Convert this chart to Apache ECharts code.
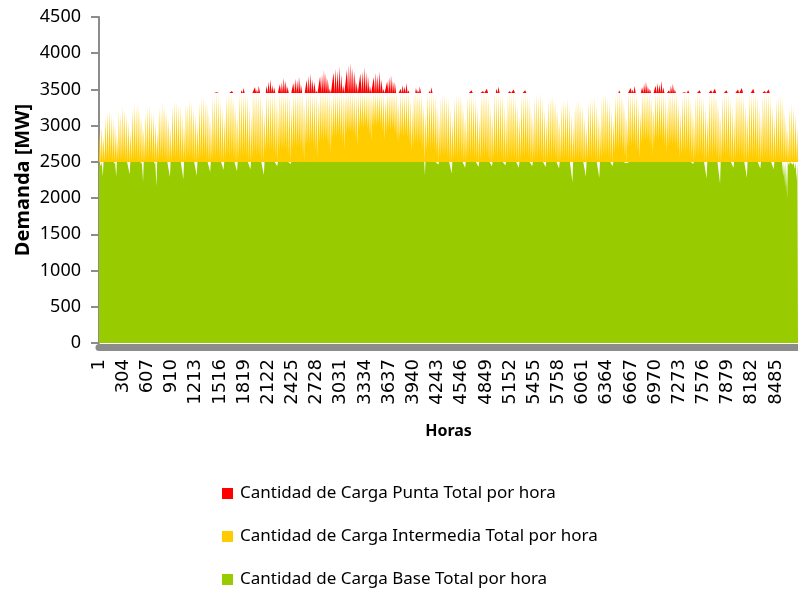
<!DOCTYPE html>
<html>
<head>
<meta charset="utf-8">
<script src="https://cdn.jsdelivr.net/npm/echarts@6/dist/echarts.min.js"></script>
<style>
  html, body { margin: 0; padding: 0; background: #fff; }
  #chart { width: 798px; height: 590px; }
</style>
</head>
<body>
<div id="chart"></div>
<script>
// etiquetas del eje de horas (una cada 303 horas)
var hourLabels = ['1', '304', '607', '910', '1213', '1516', '1819', '2122', '2425', '2728',
  '3031', '3334', '3637', '3940', '4243', '4546', '4849', '5152', '5455', '5758',
  '6061', '6364', '6667', '6970', '7273', '7576', '7879', '8182', '8485'];

// demanda maxima diaria [MW] (1 ene vie, sab, dom; luego semanas lun..dom)
var dayPeak = [
  2900, 2990, 2850,
  3110, 3190, 3230, 3150, 3100, 3010, 2880,
  3210, 3170, 3280, 3230, 3150, 3060, 2930,
  3240, 3300, 3260, 3310, 3190, 3080, 2960,
  3170, 3250, 3290, 3200, 3180, 3050, 2920,
  3260, 3230, 3320, 3270, 3190, 3110, 2980,
  3270, 3350, 3330, 3290, 3280, 3150, 3010,
  3310, 3290, 3370, 3330, 3250, 3160, 3030,
  3320, 3390, 3410, 3340, 3330, 3190, 3060,
  3390, 3410, 3460, 3420, 3350, 3240, 3110,
  3420, 3450, 3430, 3480, 3390, 3260, 3130,
  3440, 3490, 3520, 3450, 3420, 3290, 3150,
  3470, 3530, 3500, 3550, 3460, 3320, 3180,
  3550, 3610, 3640, 3560, 3530, 3400, 3260,
  3570, 3600, 3660, 3620, 3540, 3420, 3280,
  3590, 3650, 3630, 3680, 3570, 3440, 3300,
  3630, 3690, 3720, 3640, 3610, 3480, 3340,
  3680, 3710, 3770, 3720, 3650, 3510, 3370,
  3730, 3790, 3760, 3820, 3710, 3560, 3420,
  3770, 3840, 3870, 3800, 3750, 3600, 3450,
  3720, 3750, 3810, 3740, 3690, 3550, 3410,
  3670, 3730, 3700, 3750, 3640, 3510, 3370,
  3610, 3670, 3700, 3620, 3600, 3450, 3320,
  3510, 3560, 3540, 3590, 3490, 3360, 3220,
  3460, 3520, 3490, 3540, 3440, 3300, 3170,
  3450, 3480, 3530, 3470, 3430, 3300, 3160,
  3390, 3440, 3470, 3410, 3380, 3250, 3110,
  3370, 3440, 3420, 3460, 3360, 3230, 3100,
  3410, 3460, 3490, 3420, 3390, 3260, 3120,
  3430, 3480, 3460, 3510, 3410, 3280, 3140,
  3450, 3510, 3540, 3470, 3430, 3290, 3150,
  3420, 3480, 3450, 3500, 3410, 3270, 3140,
  3410, 3440, 3490, 3430, 3390, 3260, 3120,
  3390, 3450, 3420, 3470, 3370, 3240, 3100,
  3350, 3400, 3430, 3370, 3330, 3200, 3060,
  3300, 3360, 3340, 3390, 3290, 3160, 3020,
  3290, 3340, 3370, 3300, 3270, 3140, 3000,
  3330, 3380, 3360, 3410, 3310, 3180, 3040,
  3370, 3430, 3450, 3380, 3350, 3220, 3080,
  3410, 3450, 3490, 3440, 3390, 3260, 3120,
  3470, 3520, 3500, 3550, 3450, 3310, 3180,
  3530, 3580, 3610, 3540, 3510, 3380, 3240,
  3550, 3590, 3570, 3620, 3530, 3400, 3260,
  3490, 3550, 3580, 3500, 3470, 3340, 3200,
  3410, 3460, 3440, 3490, 3390, 3260, 3120,
  3400, 3460, 3490, 3420, 3390, 3260, 3120,
  3430, 3490, 3460, 3510, 3410, 3280, 3140,
  3410, 3450, 3490, 3430, 3390, 3260, 3120,
  3440, 3500, 3470, 3520, 3420, 3290, 3150,
  3430, 3470, 3510, 3450, 3410, 3280, 3140,
  3420, 3480, 3460, 3500, 3410, 3270, 3130,
  3370, 3420, 3440, 3390, 3250, 3080, 2950,
  3260, 3300, 3270, 3160, 2980
];

// demanda minima diaria [MW]
var dayLow = [
  2400, 2440, 2300,
  2500, 2530, 2520, 2540, 2510, 2470, 2300,
  2510, 2540, 2520, 2550, 2520, 2480, 2330,
  2510, 2530, 2550, 2520, 2510, 2470, 2230,
  2510, 2540, 2520, 2550, 2520, 2470, 2160,
  2520, 2550, 2530, 2560, 2520, 2480, 2290,
  2520, 2560, 2530, 2560, 2530, 2480, 2260,
  2520, 2550, 2540, 2560, 2530, 2490, 2310,
  2530, 2560, 2540, 2570, 2530, 2490, 2360,
  2530, 2570, 2550, 2580, 2540, 2500, 2390,
  2540, 2580, 2560, 2590, 2550, 2500, 2370,
  2550, 2580, 2570, 2600, 2560, 2510, 2400,
  2560, 2600, 2580, 2610, 2570, 2520, 2320,
  2620, 2660, 2640, 2670, 2630, 2570, 2440,
  2640, 2680, 2660, 2690, 2650, 2590, 2470,
  2670, 2710, 2690, 2720, 2680, 2620, 2500,
  2710, 2750, 2730, 2760, 2720, 2660, 2560,
  2760, 2800, 2780, 2810, 2770, 2710, 2600,
  2820, 2860, 2840, 2870, 2830, 2770, 2660,
  2880, 2920, 2900, 2930, 2890, 2830, 2720,
  2940, 2980, 2960, 2990, 2950, 2890, 2780,
  2970, 3010, 2990, 3020, 2980, 2910, 2800,
  2910, 2950, 2930, 2960, 2920, 2860, 2740,
  2820, 2860, 2840, 2870, 2830, 2770, 2640,
  2720, 2760, 2740, 2770, 2730, 2670, 2320,
  2650, 2690, 2670, 2700, 2660, 2600, 2460,
  2570, 2600, 2580, 2610, 2570, 2520, 2340,
  2530, 2570, 2550, 2580, 2540, 2500, 2420,
  2540, 2580, 2560, 2590, 2550, 2510, 2430,
  2530, 2570, 2550, 2580, 2540, 2500, 2440,
  2540, 2580, 2560, 2590, 2550, 2510, 2450,
  2530, 2560, 2550, 2580, 2540, 2500, 2420,
  2540, 2580, 2560, 2590, 2550, 2510, 2440,
  2530, 2570, 2550, 2580, 2540, 2500, 2430,
  2520, 2560, 2540, 2570, 2530, 2490, 2410,
  2520, 2550, 2540, 2560, 2520, 2480, 2220,
  2520, 2550, 2530, 2560, 2520, 2480, 2300,
  2530, 2560, 2540, 2570, 2530, 2490, 2280,
  2550, 2590, 2570, 2600, 2560, 2520, 2440,
  2630, 2670, 2650, 2680, 2640, 2580, 2480,
  2690, 2730, 2710, 2740, 2700, 2640, 2540,
  2750, 2790, 2770, 2800, 2760, 2700, 2600,
  2770, 2810, 2790, 2820, 2780, 2720, 2620,
  2710, 2750, 2730, 2760, 2720, 2660, 2560,
  2590, 2630, 2610, 2640, 2600, 2550, 2470,
  2550, 2590, 2570, 2600, 2560, 2510, 2270,
  2540, 2580, 2560, 2590, 2550, 2500, 2200,
  2540, 2580, 2560, 2590, 2550, 2500, 2420,
  2530, 2570, 2550, 2580, 2540, 2490, 2280,
  2530, 2570, 2550, 2580, 2540, 2490, 2410,
  2520, 2560, 2540, 2570, 2530, 2480, 2400,
  2510, 2550, 2530, 2510, 2300, 2150, 2000,
  2450, 2480, 2460, 2400, 2250
];

var baseCap = 2500;   // tope carga base
var interCap = 3450;  // tope carga intermedia
// horas del dia: minimo nocturno, inicio y fin del bloque de maxima demanda
var lowHour = 4, peakStartHour = 12, peakEndHour = 20;

// cada carga es una franja: base 0..2500, intermedia 2500..3450, punta >3450
var pointHours = [], baseData = [], interData = [], puntaData = [];
for (var d = 0; d < dayPeak.length; d++) {
  [[lowHour, dayLow[d]], [peakStartHour, dayPeak[d]], [peakEndHour, dayPeak[d]]].forEach(function (p) {
    var v = p[1];
    pointHours.push(String(d * 24 + p[0]));
    baseData.push(Math.min(v, baseCap));
    interData.push(Math.min(Math.max(v, baseCap), interCap));
    puntaData.push(Math.max(v, interCap));
  });
}

var names = ['Cantidad de Carga Punta Total por hora',
  'Cantidad de Carga Intermedia Total por hora',
  'Cantidad de Carga Base Total por hora'];

function bandSeries(name, color, data, origin) {
  return {
    name: name,
    type: 'line',
    xAxisIndex: 1,
    data: data,
    symbol: 'none',
    showSymbol: false,
    silent: true,
    emphasis: { disabled: true },
    lineStyle: { width: 0, color: 'rgba(0,0,0,0)' },
    itemStyle: { color: color },
    areaStyle: { color: color, opacity: 1, origin: origin }
  };
}

var chart = echarts.init(document.getElementById('chart'));
chart.setOption({
  backgroundColor: '#fff',
  animation: false,
  grid: { left: 99, top: 17, width: 711, height: 326 },
  legend: {
    data: names,
    orient: 'vertical',
    left: 222,
    top: 485,
    padding: 0,
    icon: 'rect',
    itemWidth: 11,
    itemHeight: 11,
    itemGap: 26,
    textStyle: { fontFamily: 'Noto Sans', fontSize: 17, color: '#000', lineHeight: 17, padding: [0, 0, 0, 2] }
  },
  xAxis: [{
    type: 'value',
    min: 0,
    max: 8760,
    interval: 303,
    offset: 4,
    axisLine: { show: true, onZero: false, lineStyle: { color: '#8c8c8c', width: 7 } },
    axisTick: { show: false },
    splitLine: { show: false },
    axisLabel: {
      rotate: 90,
      margin: 12,
      fontFamily: 'DejaVu Sans',
      fontSize: 18,
      color: '#000',
      showMaxLabel: false,
      formatter: function (v) {
        var i = v / 303;
        return (Number.isInteger(i) && hourLabels[i]) ? hourLabels[i] : '';
      }
    },
    name: 'Horas',
    nameLocation: 'middle',
    nameGap: 76,
    nameTextStyle: { fontFamily: 'Noto Sans', fontWeight: 'bold', fontSize: 16, color: '#000' }
  }, {
    type: 'category',
    show: false,
    boundaryGap: false,
    data: pointHours
  }],
  yAxis: {
    type: 'value',
    min: 0,
    max: 4500,
    interval: 500,
    axisLine: { show: true, lineStyle: { color: '#8c8c8c', width: 2 } },
    axisTick: { show: true, length: 8, lineStyle: { color: '#8c8c8c', width: 2 } },
    splitLine: { show: false },
    axisLabel: {
      margin: 18, fontFamily: 'Noto Sans', fontSize: 18, color: '#000',
      formatter: function (v) { return String(v); }
    },
    name: 'Demanda [MW]',
    nameLocation: 'middle',
    nameRotate: 90,
    nameGap: 66,
    nameMoveOverlap: false,
    nameTextStyle: { fontFamily: 'Noto Sans', fontWeight: 'bold', fontSize: 20, color: '#000' }
  },
  series: [
    bandSeries(names[2], '#99CC00', baseData, 0),
    bandSeries(names[1], '#FFCC00', interData, baseCap),
    bandSeries(names[0], '#FF0000', puntaData, interCap)
  ]
});
</script>
</body>
</html>
